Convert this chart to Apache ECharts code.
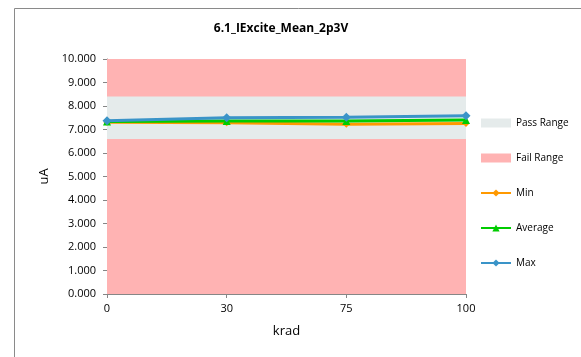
<!DOCTYPE html>
<html><head><meta charset="utf-8">
<script src="https://cdn.jsdelivr.net/npm/echarts@6/dist/echarts.min.js"></script>
<style>html,body{margin:0;padding:0;background:#fff}#c{width:581px;height:357px}</style>
</head><body><div id="c"></div>
<script>
const categories = ['0', '30', '75', '100'];
const minVals = [7.31, 7.29, 7.22, 7.26];
const avgVals = [7.34, 7.36, 7.36, 7.40];
const maxVals = [7.37, 7.50, 7.52, 7.58];
const passRange = [6.6, 8.4];
const failRange = [0, 10];
const yTicks = [0, 1, 2, 3, 4, 5, 6, 7, 8, 9, 10];

const chart = echarts.init(document.getElementById('c'), null, {renderer: 'canvas'});
const font = '"Open Sans", "Noto Sans", sans-serif';
chart.setOption({
  animation: false,
  backgroundColor: '#fff',
  title: {
    text: '6.1_IExcite_Mean_2p3V', left: 276, top: 18, textAlign: 'center',
    textStyle: {fontSize: 12, fontWeight: 'bold', color: '#000', fontFamily: font}
  },
  graphic: [{type: 'rect', shape: {x: 14.5, y: 8.5, width: 700, height: 500}, style: {fill: 'none', stroke: '#8a8a8a', lineWidth: 1}, z: -1}],
  grid: {left: 107, top: 59, right: 115, bottom: 63},
  legend: {
    orient: 'vertical', left: 475, top: 113, itemGap: 25, itemWidth: 30, itemHeight: 9,
    textStyle: {fontSize: 10, color: '#000', fontFamily: font},
    data: [
      {name: 'Pass Range', icon: 'rect'},
      {name: 'Fail Range', icon: 'rect'},
      'Min', 'Average', 'Max'
    ]
  },
  xAxis: {
    type: 'category', data: categories, boundaryGap: false,
    name: 'krad', nameLocation: 'middle', nameGap: 31,
    nameTextStyle: {fontSize: 13, color: '#000', fontFamily: font},
    axisLine: {lineStyle: {color: '#868686'}},
    axisTick: {show: true, length: 4, lineStyle: {color: '#868686'}},
    axisLabel: {fontSize: 11, color: '#000', margin: 9, fontFamily: font},
    splitLine: {show: false}
  },
  yAxis: {
    type: 'value', min: yTicks[0], max: yTicks[yTicks.length - 1], interval: 1,
    name: 'uA', nameLocation: 'middle', nameGap: 56, nameRotate: 90,
    nameTextStyle: {fontSize: 13, color: '#000', fontFamily: font},
    axisLine: {show: true, lineStyle: {color: '#868686'}},
    axisTick: {show: true, length: 4, lineStyle: {color: '#868686'}},
    axisLabel: {fontSize: 11, color: '#000', margin: 11, fontFamily: font, formatter: v => v.toFixed(3)},
    splitLine: {show: false}
  },
  series: [
    {
      name: 'Fail Range', type: 'line', data: [], itemStyle: {color: '#FFB3B3'}, z: 1,
      markArea: {silent: true, itemStyle: {color: '#FFB3B3', opacity: 1},
        data: [[{yAxis: failRange[0]}, {yAxis: failRange[1]}]]}
    },
    {
      name: 'Pass Range', type: 'line', data: [], itemStyle: {color: '#E5EBEB'}, z: 2,
      markArea: {silent: true, itemStyle: {color: '#E5EBEB', opacity: 1},
        data: [[{yAxis: passRange[0]}, {yAxis: passRange[1]}]]}
    },
    {
      name: 'Min', type: 'line', data: minVals, z: 5,
      symbol: 'diamond', symbolSize: 7,
      lineStyle: {color: '#FF9900', width: 3}, itemStyle: {color: '#FF9900'}
    },
    {
      name: 'Average', type: 'line', data: avgVals, z: 6,
      symbol: 'triangle', symbolSize: 8,
      lineStyle: {color: '#00CC00', width: 3}, itemStyle: {color: '#00CC00'}
    },
    {
      name: 'Max', type: 'line', data: maxVals, z: 7,
      symbol: 'diamond', symbolSize: 9,
      lineStyle: {color: '#3A94C8', width: 3}, itemStyle: {color: '#3A94C8'}
    }
  ]
});
</script></body></html>
